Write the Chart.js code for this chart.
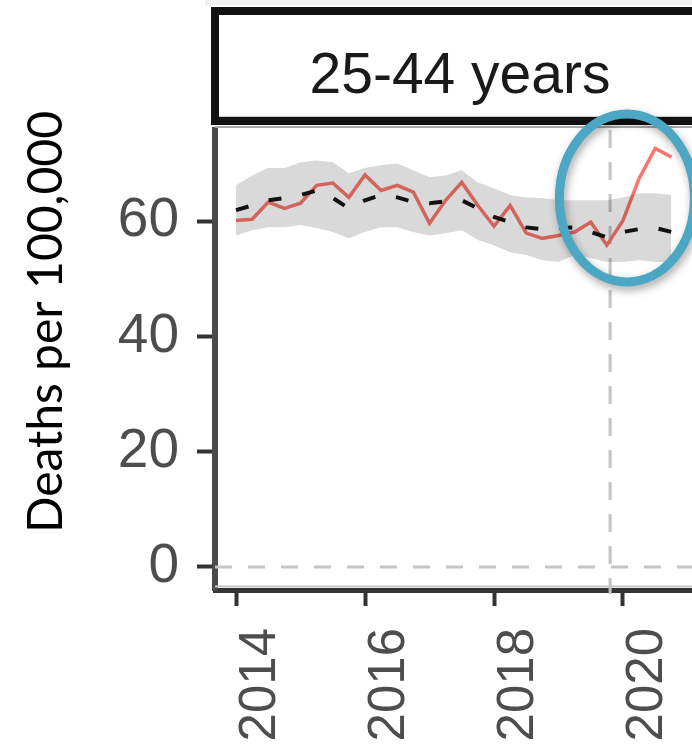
<!DOCTYPE html>
<html>
<head>
<meta charset="utf-8">
<script src="https://cdn.jsdelivr.net/npm/chart.js@4.4.1/dist/chart.umd.min.js"></script>
<style>
  html, body { margin: 0; padding: 0; background: #fff; overflow: hidden; }
  #wrap { width: 720px; height: 750px; }
</style>
</head>
<body>
<div id="wrap"><canvas id="myChart" width="720" height="750"></canvas></div>
<script>
// quarterly deaths per 100,000, 25-44 years
const periods = [
    '2014-Q1', '2014-Q2', '2014-Q3', '2014-Q4',
    '2015-Q1', '2015-Q2', '2015-Q3', '2015-Q4',
    '2016-Q1', '2016-Q2', '2016-Q3', '2016-Q4',
    '2017-Q1', '2017-Q2', '2017-Q3', '2017-Q4',
    '2018-Q1', '2018-Q2', '2018-Q3', '2018-Q4',
    '2019-Q1', '2019-Q2', '2019-Q3', '2019-Q4',
    '2020-Q1', '2020-Q2', '2020-Q3', '2020-Q4'
];
const observed = [
    60.1, 60.3, 63.3, 62.2, 63.1, 66.2, 66.6, 64.1,
    68.0, 65.3, 66.2, 65.0, 59.6, 63.6, 66.7, 62.7,
    59.1, 62.7, 57.9, 57.0, 57.5, 58.1, 59.8, 55.8,
    60.1, 67.4, 72.6, 71.1
];
const expected = [
    61.9, 62.7, 63.6, 64.0, 64.5, 65.3, 64.0, 62.2,
    63.6, 64.5, 64.1, 63.3, 63.1, 63.4, 63.6, 62.2,
    60.7, 59.8, 58.9, 58.6, 58.8, 58.9, 58.1, 57.2,
    58.1, 58.6, 58.8, 58.1
];
const upperBound = [
    66.2, 67.9, 69.2, 69.2, 70.2, 70.5, 70.2, 68.3,
    69.2, 69.7, 70.0, 68.8, 67.6, 67.9, 68.8, 66.7,
    65.7, 64.5, 64.1, 64.0, 63.6, 63.6, 63.6, 63.6,
    64.1, 64.8, 64.8, 64.5
];
const lowerBound = [
    57.5, 58.4, 58.9, 58.9, 59.3, 58.8, 58.1, 57.0,
    58.1, 58.9, 58.9, 58.1, 57.5, 57.9, 58.4, 56.7,
    55.8, 54.6, 54.1, 53.2, 52.9, 54.1, 53.6, 52.9,
    52.9, 53.2, 52.9, 52.9
];
const xTickValues = [2014, 2016, 2018, 2020];
const yTickValues = [0, 20, 40, 60];
const panelTitle = '25-44 years';
const yAxisTitle = 'Deaths per 100,000';
const pandemicLine = 2019.8;
const highlightCenter = {x: 2020.06, y: 64.0};

const periodToYear = p => Number(p.slice(0, 4)) + (Number(p.slice(6)) - 1) / 4;
const toPoints = values => values.map((v, i) => ({x: periodToYear(periods[i]), y: v}));

const tickFont = 'Liberation Sans, Arial, sans-serif';

const decorations = {
    id: 'decorations',
    beforeDatasetsDraw(chart) {
        const ctx = chart.ctx;
        const area = chart.chartArea;
        const xs = chart.scales.x, ys = chart.scales.y;
        ctx.save();
        ctx.strokeStyle = '#c4c4c4';
        ctx.lineWidth = 3;
        ctx.setLineDash([17, 16]);
        const y0 = ys.getPixelForValue(0);
        ctx.beginPath();
        ctx.moveTo(area.left, y0);
        ctx.lineTo(area.right, y0);
        ctx.stroke();
        const xv = xs.getPixelForValue(pandemicLine);
        ctx.setLineDash([18, 14]);
        ctx.beginPath();
        ctx.moveTo(xv, area.top);
        ctx.lineTo(xv, area.bottom + 4);
        ctx.stroke();
        ctx.restore();
    },
    afterDraw(chart) {
        const ctx = chart.ctx;
        const area = chart.chartArea;
        const xs = chart.scales.x, ys = chart.scales.y;
        ctx.save();

        // faint band above strip
        ctx.fillStyle = '#efefef';
        ctx.fillRect(205, 0, chart.width, 5);

        // panel bottom border
        ctx.strokeStyle = '#c4c4c4';
        ctx.lineWidth = 2;
        ctx.beginPath();
        ctx.moveTo(area.left, area.bottom - 3.5);
        ctx.lineTo(area.right, area.bottom - 3.5);
        ctx.stroke();

        // strip box
        ctx.fillStyle = '#fff';
        ctx.fillRect(215, 11, chart.width, 110);
        ctx.strokeStyle = '#999';
        ctx.lineWidth = 3;
        ctx.beginPath();
        ctx.moveTo(215, 118);
        ctx.lineTo(chart.width + 10, 118);
        ctx.stroke();
        ctx.strokeStyle = '#111';
        ctx.lineWidth = 8;
        ctx.strokeRect(215, 11, chart.width, 110);
        ctx.strokeStyle = '#aaa';
        ctx.lineWidth = 2;
        ctx.beginPath();
        ctx.moveTo(215, 127);
        ctx.lineTo(chart.width + 10, 127);
        ctx.stroke();

        ctx.fillStyle = '#1a1a1a';
        ctx.font = '57px ' + tickFont;
        ctx.textAlign = 'center';
        ctx.textBaseline = 'alphabetic';
        ctx.fillText(panelTitle, 460, 93);

        // y axis title
        ctx.save();
        ctx.translate(62, 322);
        ctx.rotate(-Math.PI / 2);
        ctx.fillStyle = '#000';
        ctx.font = '48px Lato, "Noto Sans", sans-serif';
        ctx.textAlign = 'center';
        ctx.textBaseline = 'alphabetic';
        ctx.fillText(yAxisTitle, 0, 0);
        ctx.restore();

        // highlight ellipse
        const cx = xs.getPixelForValue(highlightCenter.x);
        const cy = ys.getPixelForValue(highlightCenter.y);
        ctx.shadowColor = 'rgba(0,0,0,0.35)';
        ctx.shadowBlur = 8;
        ctx.shadowOffsetX = 2;
        ctx.shadowOffsetY = 4;
        ctx.strokeStyle = '#4ba7c3';
        ctx.lineWidth = 9;
        ctx.beginPath();
        ctx.ellipse(cx, cy, 67.5, 84, 0, 0, Math.PI * 2);
        ctx.stroke();
        ctx.restore();
    }
};

const config = {
    type: 'line',
    data: {
        datasets: [
            {
                label: 'Expected',
                data: toPoints(expected),
                borderColor: '#111',
                borderWidth: 4,
                borderDash: [13, 21],
                pointRadius: 0,
                fill: false,
            },
            {
                label: 'Upper',
                data: toPoints(upperBound),
                borderColor: 'transparent',
                borderWidth: 1,
                pointRadius: 0,
                fill: '+1',
                backgroundColor: 'rgba(0, 0, 0, 0.15)',
            },
            {
                label: 'Lower',
                data: toPoints(lowerBound),
                borderColor: 'transparent',
                borderWidth: 1,
                pointRadius: 0,
                fill: false,
            },
            {
                label: 'Observed',
                data: toPoints(observed),
                borderColor: '#F8766D',
                borderWidth: 3.5,
                pointRadius: 0,
                fill: false,
            }
        ]
    },
    options: {
        responsive: false,
        animation: false,
        layout: {padding: {top: 130, left: 0, right: 0, bottom: 0}},
        plugins: {
            legend: {display: false},
            tooltip: {enabled: false},
        },
        scales: {
            x: {
                type: 'linear',
                min: 2013.674,
                max: 2021.504,
                afterBuildTicks: axis => { axis.ticks = xTickValues.map(v => ({value: v})); },
                afterFit: scale => { scale.height = 160; },
                grid: {drawOnChartArea: false, drawTicks: true, tickLength: 16, tickWidth: 4, tickColor: '#333'},
                border: {display: true, color: '#333', width: 5},
                ticks: {
                    autoSkip: false,
                    minRotation: 90,
                    maxRotation: 90,
                    padding: 22,
                    labelOffset: 25,
                    color: '#4d4d4d',
                    font: {family: tickFont, size: 51},
                    callback: v => String(v),
                },
            },
            y: {
                min: -4,
                max: 75.79,
                afterBuildTicks: axis => { axis.ticks = yTickValues.map(v => ({value: v})); },
                afterFit: scale => { scale.width = 215; },
                grid: {drawOnChartArea: false, drawTicks: true, tickLength: 18, tickWidth: 4, tickColor: '#333'},
                border: {display: true, color: '#4a4a4a', width: 6},
                ticks: {
                    padding: 18,
                    color: '#4d4d4d',
                    font: {family: tickFont, size: 55},
                    callback: v => String(v),
                },
            }
        }
    },
    plugins: [decorations]
};

const myChart = new Chart(document.getElementById('myChart').getContext('2d'), config);
</script>
</body>
</html>
